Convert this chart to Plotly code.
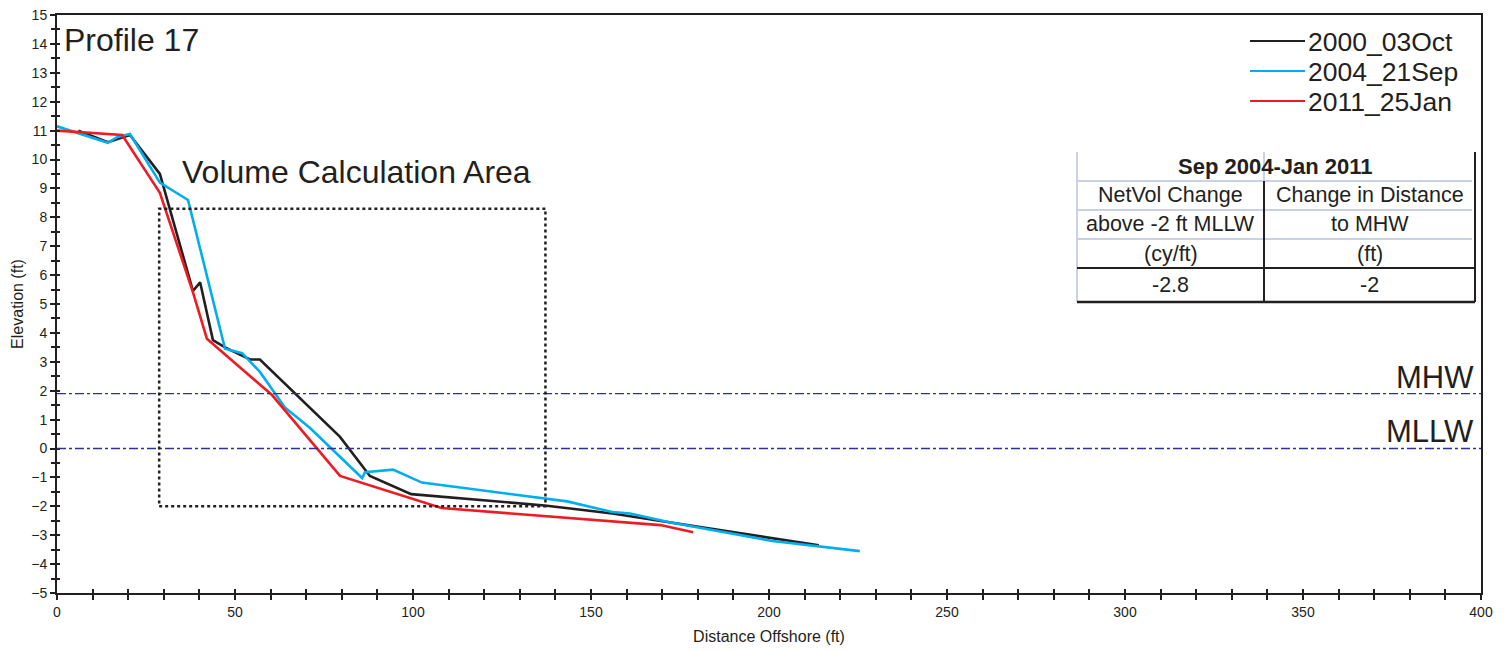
import plotly.graph_objects as go

# Survey profiles: distance offshore (ft) and elevation (ft)
dist_2000 = [6, 14.3, 20.5, 28.9, 38.2, 40.2, 43.8, 47.2, 54.2, 57.0, 79.5, 87.9, 99.5, 137, 156, 172, 214]
elev_2000 = [11.0, 10.6, 10.85, 9.5, 5.45, 5.75, 3.75, 3.5, 3.08, 3.08, 0.4, -0.95, -1.58, -1.97, -2.25, -2.55, -3.35]

dist_2004 = [0, 14.3, 17, 20.5, 28.9, 36.8, 47.2, 52, 57, 64, 71, 85.7, 86.5, 94.4, 102.5, 143.3, 156, 161, 172, 201, 225.5]
elev_2004 = [11.15, 10.58, 10.78, 10.88, 9.2, 8.6, 3.45, 3.3, 2.65, 1.42, 0.72, -1.02, -0.82, -0.73, -1.18, -1.83, -2.2, -2.25, -2.55, -3.2, -3.55]

dist_2011 = [0, 18.3, 28.9, 38.2, 42.1, 60.4, 79.5, 86, 108, 169.5, 178.7]
elev_2011 = [11.0, 10.85, 8.85, 5.4, 3.8, 1.85, -0.95, -1.2, -2.06, -2.65, -2.9]

series_names = ["2000_03Oct", "2004_21Sep", "2011_25Jan"]
series_colors = ["#231f20", "#00aeef", "#ed1c24"]

# Tidal datums (ft)
mhw = 1.9
mllw = 0.0

# Volume calculation area bounds
vol_x = [28.7, 137.2]
vol_y = [-2.0, 8.3]

# Summary table
table_title = "Sep 2004-Jan 2011"
table_col1 = ["NetVol Change", "above -2 ft MLLW", "(cy/ft)", "-2.8"]
table_col2 = ["Change in Distance", "to MHW", "(ft)", "-2"]

W, H = 1504, 651
ML, MR, MT, MB = 57, 23, 15, 58
PW, PH = W - ML - MR, H - MT - MB
FONT = "Liberation Sans, Arial, sans-serif"
INK = "#231f20"


def px(xp):
    return (xp - ML) / PW


def py(yp):
    return (H - MB - yp) / PH


fig = go.Figure()
for xs, ys, name, color in zip([dist_2000, dist_2004, dist_2011],
                               [elev_2000, elev_2004, elev_2011],
                               series_names, series_colors):
    fig.add_trace(go.Scatter(x=xs, y=ys, mode="lines", name=name, showlegend=False,
                             line=dict(color=color, width=2.6)))

# Inside half of the crossing tick marks
fig.add_trace(go.Scatter(x=[None], y=[None], xaxis="x2", yaxis="y2", showlegend=False))

shapes = []
for level in (mhw, mllw):
    shapes.append(dict(type="line", xref="x", yref="y", x0=0, x1=400, y0=level, y1=level,
                       line=dict(color="#2e3192", width=1.3, dash="dashdot")))
shapes.append(dict(type="rect", xref="x", yref="y", x0=vol_x[0], x1=vol_x[1], y0=vol_y[0], y1=vol_y[1],
                   line=dict(color=INK, width=2.5, dash="dot")))


def seg(x0, y0, x1, y1, color, width):
    shapes.append(dict(type="line", xref="paper", yref="paper",
                       x0=px(x0), x1=px(x1), y0=py(y0), y1=py(y1),
                       line=dict(color=color, width=width)))


annotations = []

# Legend: sample line plus label for each survey
legend_rows = [41, 71, 101]
for name, color, yr in zip(series_names, series_colors, legend_rows):
    seg(1250, yr, 1305, yr, color, 2)
    annotations.append(dict(text=name, xref="paper", yref="paper", x=px(1306), y=py(yr + 1),
                            xanchor="left", yanchor="middle", showarrow=False,
                            font=dict(size=26.5, color=INK)))

# Table grid
LIGHT = "#c9d1e3"
tx0, tx1, txm = 1077, 1475, 1264
rows = [152, 181, 210, 239, 268, 302]
seg(tx0, rows[0], tx0, rows[-1], LIGHT, 2)
seg(txm, rows[0], txm, rows[1], LIGHT, 2)
for r in rows[1:4]:
    seg(tx0, r, tx1 - 3, r, LIGHT, 2)
seg(txm, rows[1], txm, rows[-1], INK, 2)
seg(tx1, rows[0], tx1, rows[-1], INK, 2)
seg(tx0, rows[4], tx1, rows[4], INK, 2)
seg(tx0, rows[5], tx1, rows[5], INK, 2.5)

annotations += [
    dict(text="Profile 17", xref="paper", yref="paper", x=px(62), y=py(40),
         xanchor="left", yanchor="middle", showarrow=False, font=dict(size=32, color=INK)),
    dict(text="Volume Calculation Area", xref="paper", yref="paper", x=px(180), y=py(172),
         xanchor="left", yanchor="middle", showarrow=False, font=dict(size=32, color=INK)),
    dict(text="MHW", xref="paper", yref="y", x=px(1476), y=mhw, xanchor="right", yanchor="bottom",
         yshift=-3, showarrow=False, font=dict(size=31, color=INK)),
    dict(text="MLLW", xref="paper", yref="y", x=px(1476), y=mllw, xanchor="right", yanchor="bottom",
         yshift=-2, showarrow=False, font=dict(size=31, color=INK)),
    dict(text="<b>" + table_title + "</b>", xref="paper", yref="paper", x=px(1275), y=py(166),
         xanchor="center", yanchor="middle", showarrow=False, font=dict(size=22, color=INK)),
]
c1, c2 = (tx0 + txm) / 2, (txm + tx1) / 2
for i, (a, b) in enumerate(zip(table_col1, table_col2)):
    yc = (rows[i + 1] + rows[i + 2]) / 2
    for txt, xc in ((a, c1), (b, c2)):
        annotations.append(dict(text=txt, xref="paper", yref="paper", x=px(xc), y=py(yc),
                                xanchor="center", yanchor="middle", showarrow=False,
                                font=dict(size=21.5, color=INK)))

axis_common = dict(showgrid=False, zeroline=False, ticks="outside", ticklen=5, tickwidth=1.5,
                   tickcolor=INK, showline=True, linewidth=2, linecolor=INK, mirror=True,
                   tickfont=dict(size=14, color=INK), automargin=False)

fig.update_layout(
    width=W, height=H,
    margin=dict(l=ML, r=MR, t=MT, b=MB),
    paper_bgcolor="white", plot_bgcolor="white",
    font=dict(family=FONT, color=INK),
    showlegend=False,
    xaxis=dict(range=[0, 400], tick0=0, dtick=50,
               minor=dict(dtick=10, ticks="outside", ticklen=5, tickwidth=1.5, tickcolor=INK),
               title=dict(text="Distance Offshore (ft)", font=dict(size=16), standoff=12),
               **axis_common),
    yaxis=dict(range=[-5, 15], tick0=0, dtick=1,
               minor=dict(dtick=0.5, ticks="outside", ticklen=4, tickwidth=1.5, tickcolor=INK),
               title=dict(text="Elevation (ft)", font=dict(size=16), standoff=4),
               **axis_common),
    xaxis2=dict(overlaying="x", matches="x", anchor="y2", side="bottom", range=[0, 400], dtick=10,
                ticks="inside", ticklen=4, tickwidth=1.5, tickcolor=INK, showticklabels=False,
                showgrid=False, zeroline=False, showline=False),
    yaxis2=dict(overlaying="y", matches="y", anchor="x2", side="left", range=[-5, 15], dtick=0.5,
                ticks="inside", ticklen=3, tickwidth=1.5, tickcolor=INK, showticklabels=False,
                showgrid=False, zeroline=False, showline=False),
    shapes=shapes,
    annotations=annotations,
)

fig.write_html("out.html")
